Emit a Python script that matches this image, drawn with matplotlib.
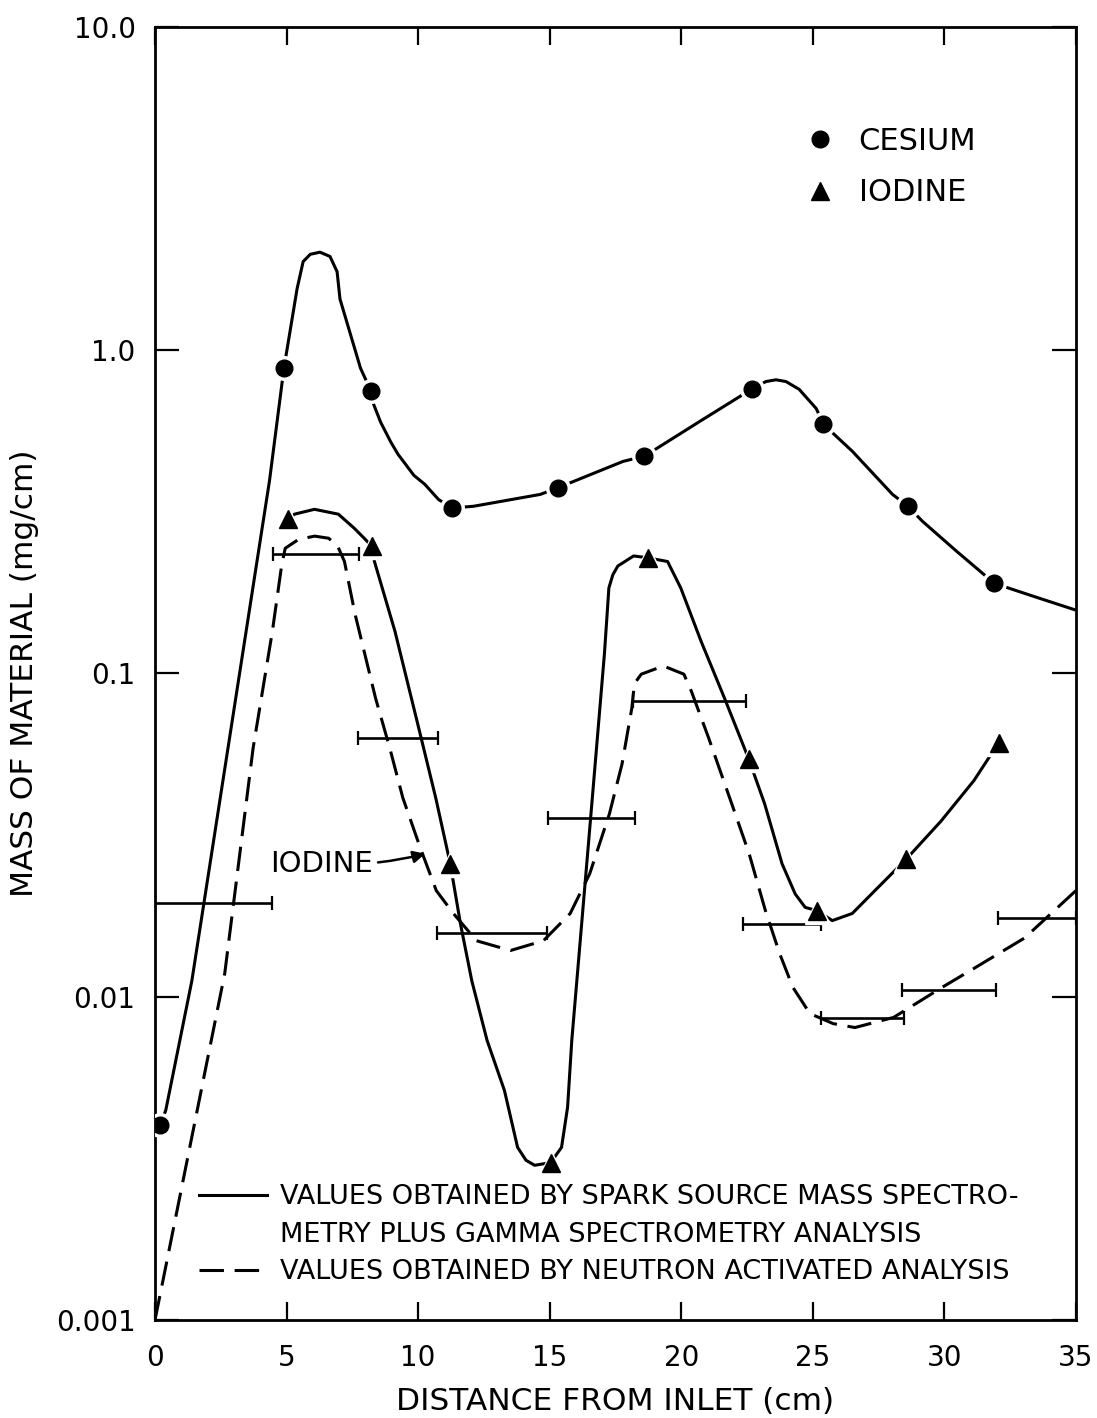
import matplotlib
matplotlib.use("Agg")
import matplotlib.pyplot as plt
from matplotlib.lines import Line2D
from matplotlib.ticker import NullLocator

plt.rcParams["font.family"] = "DejaVu Sans"

# ===== 数据 (distance cm, mass mg/cm) =====
# cesium, spark source MS + gamma spectrometry
cs_x = [0.2, 4.9, 8.2, 11.3, 15.3, 18.6, 22.7, 25.4, 28.6, 31.9]
cs_y = [0.0040, 0.88, 0.75, 0.325, 0.375, 0.47, 0.76, 0.59, 0.33, 0.19]

# hand-drawn trend through the cesium points
cs_line_x = [0.2, 0.41, 1.40, 4.35, 4.9, 5.40, 5.63, 5.90, 6.27, 6.65, 6.92,
             7.03, 7.81, 8.2, 8.31, 8.57, 8.96, 9.24, 9.84, 10.25, 10.78, 11.3,
             12.1, 14.64, 15.3, 17.79, 18.6, 20.7, 22.7, 23.22, 23.6, 23.98,
             24.48, 25.13, 25.4, 26.5, 28.03, 28.6, 29.16, 30.46, 31.9, 33.6, 35.0]
cs_line_y = [0.0040, 0.00446, 0.0112, 0.394, 0.88, 1.55, 1.88, 1.98, 2.01, 1.95, 1.75,
             1.44, 0.88, 0.75, 0.68, 0.60, 0.52, 0.476, 0.41, 0.385, 0.345, 0.325,
             0.329, 0.358, 0.375, 0.453, 0.47, 0.602, 0.76, 0.80, 0.81, 0.80,
             0.757, 0.66, 0.59, 0.487, 0.358, 0.33, 0.296, 0.239, 0.19, 0.171, 0.157]

# iodine, spark source MS + gamma spectrometry
io_x = [5.07, 8.23, 11.22, 15.04, 18.72, 22.56, 25.17, 28.56, 32.06]
io_y = [0.30, 0.248, 0.0258, 0.00307, 0.228, 0.0545, 0.01845, 0.0267, 0.061]

io_line_x = [5.07, 5.30, 6.06, 6.97, 7.58, 7.95, 8.23, 8.34, 9.12, 10.05, 10.67,
             11.22, 11.61, 12.04, 12.62, 13.28, 13.78, 14.10, 14.43, 15.04, 15.45,
             15.68, 15.84, 16.62, 17.08, 17.25, 17.40, 17.59, 18.19, 18.72, 19.48,
             19.98, 20.75, 21.64, 22.56, 23.17, 23.83, 24.33, 24.71, 25.17, 25.74,
             26.5, 27.36, 28.56, 29.88, 31.12, 32.06]
io_line_y = [0.30, 0.311, 0.322, 0.311, 0.281, 0.262, 0.248, 0.222, 0.135, 0.0664, 0.0412,
             0.0258, 0.0168, 0.0112, 0.00733, 0.00513, 0.00342, 0.00312, 0.00301, 0.00307, 0.00342,
             0.00455, 0.00733, 0.0412, 0.115, 0.184, 0.202, 0.215, 0.231, 0.228, 0.222,
             0.184, 0.126, 0.084, 0.0545, 0.0395, 0.0258, 0.0208, 0.0189, 0.01845, 0.0172,
             0.0181, 0.0213, 0.0267, 0.035, 0.0466, 0.061]

# iodine, neutron activation analysis: trend + section values
na_line_x = [0.0, 2.65, 3.73, 4.46, 4.82, 4.95, 5.46, 6.07, 6.6, 6.94, 7.2, 7.60,
             8.38, 8.92, 9.42, 10.08, 10.69, 11.34, 12.22, 13.51, 14.76, 15.78,
             16.52, 17.27, 17.75, 18.12, 18.22, 18.48, 19.32, 20.1, 20.38, 21.04,
             21.92, 22.58, 23.2, 23.74, 24.24, 24.89, 25.77, 26.6, 28.07, 29.92,
             31.17, 33.05, 35.0]
na_line_y = [0.001, 0.0118, 0.0589, 0.135, 0.218, 0.244, 0.260, 0.266, 0.262, 0.248, 0.222, 0.153,
             0.084, 0.0589, 0.0412, 0.0289, 0.0213, 0.0181, 0.0149, 0.0139, 0.0149, 0.0181,
             0.024, 0.0368, 0.0525, 0.078, 0.093, 0.0995, 0.1055, 0.0995, 0.0883, 0.0632,
             0.0395, 0.0277, 0.01845, 0.0136, 0.0107, 0.00887, 0.00826, 0.00803, 0.00863, 0.0107,
             0.0123, 0.0152, 0.0213]

sec_lo = [0.0, 4.5, 7.7, 10.7, 14.95, 18.15, 22.35, 25.3, 28.4, 32.05]
sec_hi = [4.45, 7.75, 10.75, 14.9, 18.25, 22.45, 25.3, 28.45, 31.95, 35.0]
sec_val = [0.0195, 0.234, 0.063, 0.0158, 0.0358, 0.082, 0.0168, 0.0086, 0.0105, 0.0175]

x_ticks = [0, 5, 10, 15, 20, 25, 30, 35]
y_ticks = [0.001, 0.01, 0.1, 1.0, 10.0]
y_ticklabels = ["0.001", "0.01", "0.1", "1.0", "10.0"]

# ===== 绘图 =====
fig = plt.figure(figsize=(10.97, 14.18), dpi=100)
ax = fig.add_axes([0.1413, 0.0691, 0.8395, 0.9119])
ax.set_yscale("log")
ax.set_xlim(0, 35)
ax.set_ylim(0.001, 10)

LW = 2.2
ax.plot(cs_line_x, cs_line_y, color="k", lw=LW, zorder=2)
ax.plot(io_line_x, io_line_y, color="k", lw=LW, zorder=2)
ax.plot(na_line_x, na_line_y, color="k", lw=LW, dashes=(8, 3.5), zorder=2)

# section averages as horizontal range bars
mid = [(a + b) / 2 for a, b in zip(sec_lo, sec_hi)]
half = [(b - a) / 2 for a, b in zip(sec_lo, sec_hi)]
ax.errorbar(mid, sec_val, xerr=half, fmt="none", ecolor="k",
            elinewidth=1.9, capsize=5, capthick=1.6, zorder=3)

# white halo under the markers so the lines stop short of them
ax.plot(cs_x, cs_y, "o", ms=17, color="white", zorder=4)
ax.plot(io_x, io_y, "^", ms=18, color="white", zorder=4)
ax.plot(cs_x, cs_y, "o", ms=12, color="k", zorder=5)
ax.plot(io_x, io_y, "^", ms=13, color="k", zorder=5)

ax.annotate("IODINE", xy=(10.27, 0.0277), xytext=(4.36, 0.0258),
            fontsize=21, ha="left", va="center",
            arrowprops=dict(arrowstyle="-|>", color="k", lw=1.8,
                            shrinkA=2, shrinkB=0, mutation_scale=18,
                            connectionstyle="arc3,rad=0.08"))

# ticks / axes
ax.set_xticks(x_ticks)
ax.set_xticklabels([str(t) for t in x_ticks])
ax.set_yticks(y_ticks)
ax.set_yticklabels(y_ticklabels)
ax.yaxis.set_minor_locator(NullLocator())
ax.xaxis.set_minor_locator(NullLocator())
ax.tick_params(axis="x", direction="in", length=13, width=1.6, top=True,
               labelsize=20, pad=17)
ax.tick_params(axis="y", direction="in", length=17, width=1.6, right=True,
               labelsize=20, pad=14)
for s in ax.spines.values():
    s.set_linewidth(2.0)

ax.set_xlabel("DISTANCE FROM INLET (cm)", fontsize=22.5, labelpad=11)
ax.set_ylabel("MASS OF MATERIAL (mg/cm)", fontsize=22.5, labelpad=12)

# symbol key
sym = [Line2D([], [], marker="o", ls="none", ms=12, color="k"),
       Line2D([], [], marker="^", ls="none", ms=13, color="k")]
leg1 = ax.legend(sym, ["CESIUM", "IODINE"], loc="upper left",
                 bbox_to_anchor=(0.706, 0.923), frameon=False, fontsize=22,
                 handlelength=1.0, handletextpad=0.75, labelspacing=0.75,
                 borderpad=0, borderaxespad=0)
ax.add_artist(leg1)

# method key
meth = [Line2D([], [], color="k", lw=LW),
        Line2D([], [], color="none"),
        Line2D([], [], color="k", lw=LW, dashes=(8, 3.5))]
ax.legend(meth, ["VALUES OBTAINED BY SPARK SOURCE MASS SPECTRO-",
                 "METRY PLUS GAMMA SPECTROMETRY ANALYSIS",
                 "VALUES OBTAINED BY NEUTRON ACTIVATED ANALYSIS"],
          loc="lower left", bbox_to_anchor=(0.048, 0.027), frameon=False,
          fontsize=19.5, handlelength=2.5, handletextpad=0.5, labelspacing=0.42,
          borderpad=0, borderaxespad=0)

fig.savefig("out.png", dpi=100, facecolor="white")
plt.close(fig)
